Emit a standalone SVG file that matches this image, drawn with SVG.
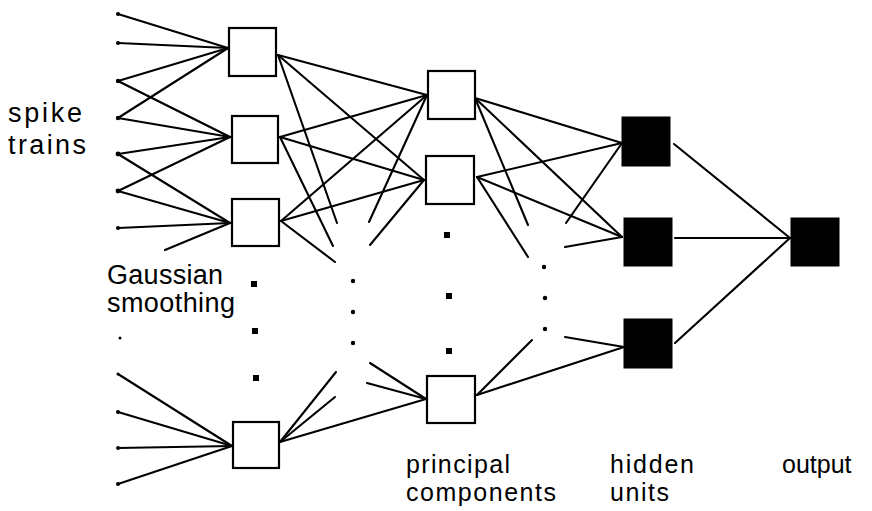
<svg xmlns="http://www.w3.org/2000/svg" width="872" height="511" viewBox="0 0 872 511">
<style>
.c line{stroke:#000;stroke-width:2.1;stroke-linecap:round}
.w{fill:#fff;stroke:#000;stroke-width:2.2}
.b{fill:#000;stroke:#000;stroke-width:1}
.t{font-family:"Liberation Sans",Arial,sans-serif;font-size:27px;fill:#000}
.s{font-size:25px}
.d{fill:#000}
</style>
<rect width="872" height="511" fill="#fff"/>
<g id="connectors" class="c">
<line x1="118" y1="14" x2="228" y2="48"/>
<line x1="118" y1="43" x2="228" y2="48"/>
<line x1="118" y1="81" x2="228" y2="48"/>
<line x1="118" y1="118" x2="228" y2="48"/>
<line x1="118" y1="81" x2="230" y2="137"/>
<line x1="118" y1="118" x2="230" y2="137"/>
<line x1="118" y1="154" x2="230" y2="137"/>
<line x1="118" y1="191" x2="230" y2="137"/>
<line x1="118" y1="154" x2="230" y2="223"/>
<line x1="118" y1="191" x2="230" y2="223"/>
<line x1="118" y1="228" x2="230" y2="223"/>
<line x1="165" y1="250" x2="230" y2="223"/>
<line x1="118" y1="374" x2="232" y2="446"/>
<line x1="118" y1="412" x2="232" y2="446"/>
<line x1="118" y1="448" x2="232" y2="446"/>
<line x1="118" y1="484" x2="232" y2="446"/>
<line x1="278" y1="55" x2="427" y2="95"/>
<line x1="278" y1="55" x2="424" y2="180"/>
<line x1="278" y1="55" x2="337" y2="223"/>
<line x1="280" y1="137" x2="427" y2="95"/>
<line x1="280" y1="137" x2="424" y2="180"/>
<line x1="280" y1="137" x2="333" y2="246"/>
<line x1="281" y1="221" x2="427" y2="95"/>
<line x1="281" y1="221" x2="424" y2="180"/>
<line x1="281" y1="221" x2="335" y2="262"/>
<line x1="369" y1="222" x2="427" y2="95"/>
<line x1="370" y1="245" x2="424" y2="180"/>
<line x1="280" y1="442" x2="426" y2="399"/>
<line x1="280" y1="442" x2="336" y2="372"/>
<line x1="280" y1="442" x2="335" y2="397"/>
<line x1="370" y1="363" x2="426" y2="399"/>
<line x1="367" y1="383" x2="426" y2="399"/>
<line x1="475" y1="98" x2="622" y2="143"/>
<line x1="475" y1="98" x2="622" y2="237"/>
<line x1="475" y1="98" x2="528" y2="225"/>
<line x1="477" y1="177" x2="622" y2="143"/>
<line x1="477" y1="177" x2="622" y2="237"/>
<line x1="477" y1="177" x2="528" y2="257"/>
<line x1="566" y1="223" x2="622" y2="143"/>
<line x1="565" y1="247" x2="622" y2="237"/>
<line x1="565" y1="337" x2="624" y2="347"/>
<line x1="477" y1="395" x2="624" y2="347"/>
<line x1="477" y1="395" x2="532" y2="340"/>
<line x1="674" y1="144" x2="790" y2="238"/>
<line x1="675" y1="238" x2="790" y2="238"/>
<line x1="675" y1="343" x2="790" y2="238"/>
</g>
<g id="inputs" class="d">
<circle cx="118" cy="14" r="2"/><circle cx="118" cy="43" r="2"/><circle cx="118" cy="81" r="2.2"/><circle cx="118" cy="118" r="2.2"/><circle cx="118" cy="154" r="2.4"/><circle cx="118" cy="191" r="2.4"/><circle cx="118" cy="228" r="2"/><circle cx="120" cy="338" r="1.5"/><circle cx="118" cy="374" r="1.5"/><circle cx="118" cy="412" r="2"/><circle cx="118" cy="448" r="2"/><circle cx="118" cy="484" r="2"/>
</g>
<g id="gauss1"><rect class="w" x="229" y="28" width="47" height="48"/></g>
<g id="gauss2"><rect class="w" x="232" y="116" width="46" height="47"/></g>
<g id="gauss3"><rect class="w" x="232" y="199" width="47" height="47"/></g>
<g id="gauss4"><rect class="w" x="233" y="422" width="46" height="46"/></g>
<g id="pc1"><rect class="w" x="428" y="71" width="47" height="48"/></g>
<g id="pc2"><rect class="w" x="426" y="156" width="48" height="48"/></g>
<g id="pc3"><rect class="w" x="427" y="376" width="48" height="47"/></g>
<g id="hidden1"><rect class="b" x="622" y="117" width="48" height="49"/></g>
<g id="hidden2"><rect class="b" x="624" y="218" width="48" height="48"/></g>
<g id="hidden3"><rect class="b" x="624" y="319" width="48" height="49"/></g>
<g id="output"><rect class="b" x="791" y="218" width="48" height="48"/></g>
<g id="ellipsis" class="d">
<rect x="251" y="281" width="6" height="6"/><rect x="252" y="328" width="6" height="6"/><rect x="253" y="375" width="6" height="6"/>
<rect x="444" y="232" width="6" height="6"/><rect x="446" y="293" width="6" height="6"/><rect x="446" y="348" width="6" height="6"/>
<circle cx="353" cy="281" r="2.2"/><circle cx="353" cy="312" r="2.2"/><circle cx="353" cy="343" r="2.2"/>
<circle cx="544" cy="267" r="2.2"/><circle cx="545" cy="298" r="2.2"/><circle cx="545" cy="329" r="2.2"/>
</g>
<g id="labels" class="t">
<text x="8" y="122" textLength="74" lengthAdjust="spacing">spike</text>
<text x="8" y="154" textLength="78" lengthAdjust="spacing">trains</text>
<text x="107" y="284" textLength="116" lengthAdjust="spacing">Gaussian</text>
<text x="107" y="312" textLength="128" lengthAdjust="spacing">smoothing</text>
<text class="s" x="406" y="473" textLength="104" lengthAdjust="spacing">principal</text>
<text class="s" x="406" y="501" textLength="150" lengthAdjust="spacing">components</text>
<text class="s" x="610" y="473" textLength="84" lengthAdjust="spacing">hidden</text>
<text class="s" x="610" y="501" textLength="59" lengthAdjust="spacing">units</text>
<text class="s" x="782" y="473">output</text>
</g>
</svg>
